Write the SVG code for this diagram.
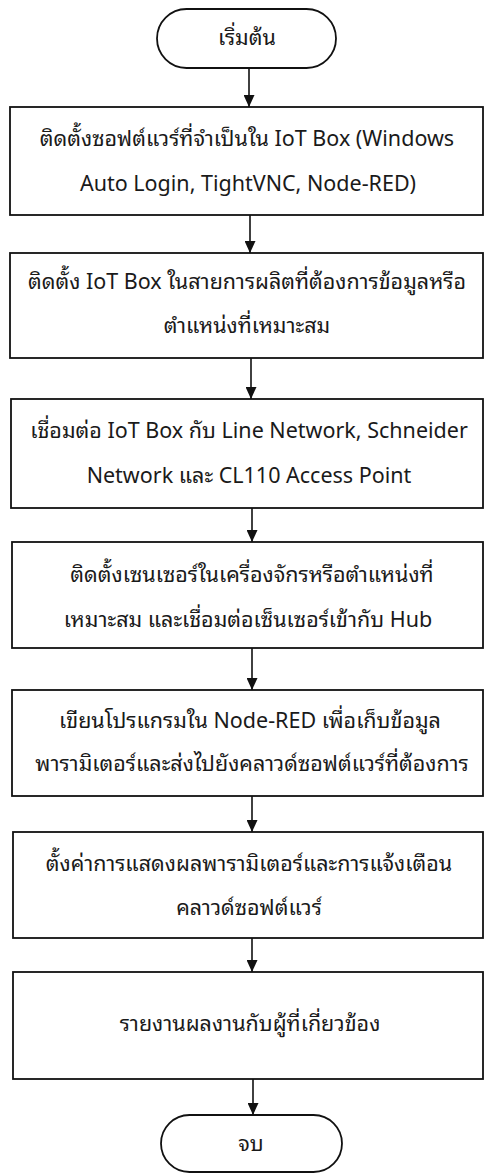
<svg xmlns="http://www.w3.org/2000/svg" width="484" height="1174" viewBox="0 0 484 1174">
<defs>
<marker id="ah" markerWidth="12" markerHeight="11" refX="12" refY="5.5" orient="auto" markerUnits="userSpaceOnUse">
<path d="M0,0 L12,5.5 L0,11 Z" fill="#111"/>
</marker>
<style>
.box{fill:none;stroke:#111;stroke-width:1.8}
.t{font-family:"Noto Sans Thai Looped","Noto Looped Thai","Noto Sans Thai","Open Sans","Noto Sans",sans-serif;font-size:21.5px;fill:#1a1a1a;text-anchor:middle}
.c{stroke:#111;stroke-width:1.6;fill:none;marker-end:url(#ah)}
</style>
</defs>
<rect width="484" height="1174" fill="#fff"/>
<g id="start">
<rect class="box" x="157" y="9" width="179" height="59" rx="29.5"/>
<text class="t" x="247" y="45">เริ่มต้น</text>
</g>
<g id="n1">
<rect class="box" x="10" y="107" width="473" height="108"/>
<text class="t" x="247" y="146">ติดตั้งซอฟต์แวร์ที่จำเป็นใน IoT Box (Windows</text>
<text class="t" x="248" y="191">Auto Login, TightVNC, Node-RED)</text>
</g>
<g id="n2">
<rect class="box" x="10" y="253" width="473" height="105"/>
<text class="t" x="247" y="289">ติดตั้ง IoT Box ในสายการผลิตที่ต้องการข้อมูลหรือ</text>
<text class="t" x="247" y="333">ตำแหน่งที่เหมาะสม</text>
</g>
<g id="n3">
<rect class="box" x="11" y="399" width="472" height="109"/>
<text class="t" x="249" y="438">เชื่อมต่อ IoT Box กับ Line Network, Schneider</text>
<text class="t" x="249" y="483">Network และ CL110 Access Point</text>
</g>
<g id="n4">
<rect class="box" x="12" y="542" width="471" height="106"/>
<text class="t" x="252" y="582">ติดตั้งเซนเซอร์ในเครื่องจักรหรือตำแหน่งที่</text>
<text class="t" x="248" y="627">เหมาะสม และเชื่อมต่อเซ็นเซอร์เข้ากับ Hub</text>
</g>
<g id="n5">
<rect class="box" x="12" y="690" width="471" height="106"/>
<text class="t" x="250" y="728">เขียนโปรแกรมใน Node-RED เพื่อเก็บข้อมูล</text>
<text class="t" x="252" y="771">พารามิเตอร์และส่งไปยังคลาวด์ซอฟต์แวร์ที่ต้องการ</text>
</g>
<g id="n6">
<rect class="box" x="13" y="832" width="470" height="106"/>
<text class="t" x="249" y="871">ตั้งค่าการแสดงผลพารามิเตอร์และการแจ้งเตือน</text>
<text class="t" x="249" y="915">คลาวด์ซอฟต์แวร์</text>
</g>
<g id="n7">
<rect class="box" x="13" y="972" width="470" height="107"/>
<text class="t" x="250" y="1031">รายงานผลงานกับผู้ที่เกี่ยวข้อง</text>
</g>
<g id="end">
<rect class="box" x="161" y="1115" width="181" height="57" rx="28.5"/>
<text class="t" x="251" y="1151">จบ</text>
</g>
<g id="connectors">
<line class="c" x1="249" y1="68" x2="249" y2="107"/>
<line class="c" x1="250" y1="215" x2="250" y2="253"/>
<line class="c" x1="251" y1="358" x2="251" y2="399"/>
<line class="c" x1="252" y1="508" x2="252" y2="542"/>
<line class="c" x1="252" y1="648" x2="252" y2="690"/>
<line class="c" x1="252" y1="796" x2="252" y2="832"/>
<line class="c" x1="252" y1="938" x2="252" y2="972"/>
<line class="c" x1="253" y1="1079" x2="253" y2="1115"/>
</g>
</svg>
